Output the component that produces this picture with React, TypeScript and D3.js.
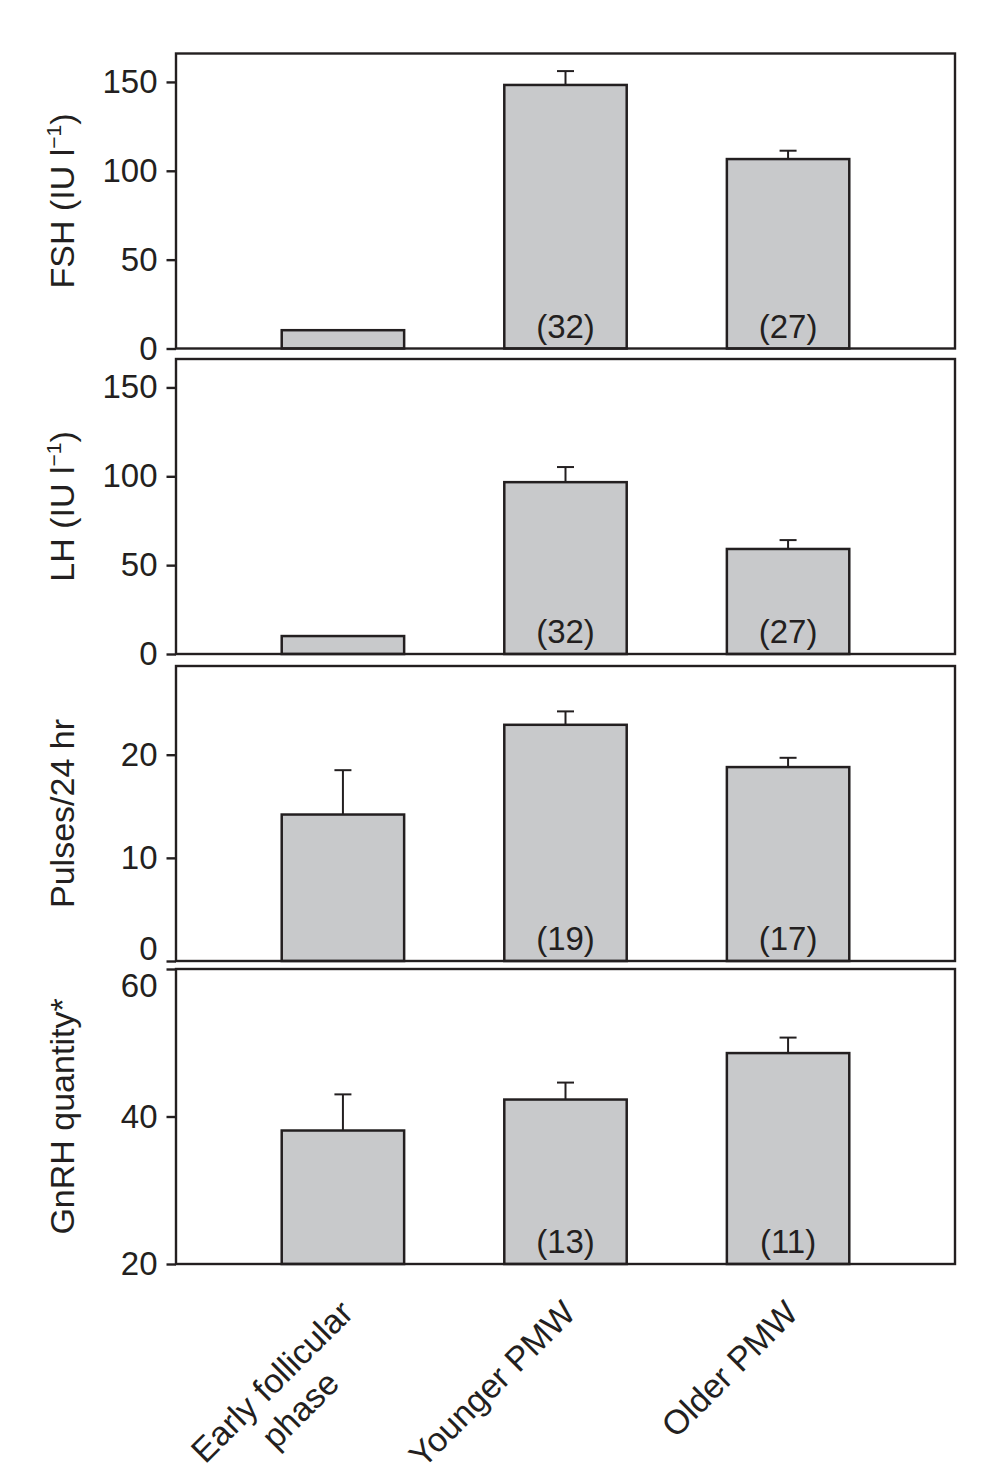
import * as d3 from 'd3';
import React, { useEffect, useRef } from 'react';

// groups on the x axis (line breaks as in the figure)
const groups = ['Early follicular phase', 'Younger PMW', 'Older PMW'];
const groupLines = [['Early follicular', 'phase'], ['Younger PMW'], ['Older PMW']];

const fshMean = [10.3, 148.3, 106.6];
const fshErr = [0, 7.8, 4.7];
const fshN = ['', '(32)', '(27)'];

const lhMean = [10.1, 96.7, 59.1];
const lhErr = [0, 8.5, 5.0];
const lhN = ['', '(32)', '(27)'];

const pulseMean = [14.2, 22.9, 18.8];
const pulseErr = [4.3, 1.3, 0.9];
const pulseN = ['', '(19)', '(17)'];

const gnrhMean = [38.1, 42.3, 48.6];
const gnrhErr = [4.9, 2.3, 2.1];
const gnrhN = ['', '(13)', '(11)'];

const fshTicks = [0, 50, 100, 150];
const lhTicks = [0, 50, 100, 150];
const pulseTicks = [0, 10, 20];
const gnrhTicks = [20, 40, 60];

type Panel = {
  title: string;
  sup?: string;
  after?: string;
  mean: number[];
  err: number[];
  n: string[];
  domain: [number, number];
  ticks: number[];
  top: number;
  // nudge for tick labels that would touch the next panel's labels
  nudge?: Record<number, number>;
};

const W = 997;
const H = 1483;
const left = 176;
const right = 955;
const panelH = 295;
const FONT = 'Liberation Sans, Arial, Helvetica, sans-serif';
const INK = '#231f20';

const App: React.FC = () => {
  const ref = useRef<SVGSVGElement | null>(null);

  useEffect(() => {
    document.body.style.margin = '0';
    const svg = d3.select(ref.current);
    svg.selectAll('*').remove();

    const panels: Panel[] = [
      { title: 'FSH (IU l', sup: '−1', after: ')', mean: fshMean, err: fshErr, n: fshN, domain: [0, 166], ticks: fshTicks, top: 53.5 },
      { title: 'LH (IU l', sup: '−1', after: ')', mean: lhMean, err: lhErr, n: lhN, domain: [0, 166], ticks: lhTicks, top: 359 },
      { title: 'Pulses/24 hr', mean: pulseMean, err: pulseErr, n: pulseN, domain: [0, 28.6], ticks: pulseTicks, top: 666, nudge: { 0: -12 } },
      { title: 'GnRH quantity*', mean: gnrhMean, err: gnrhErr, n: gnrhN, domain: [20, 60], ticks: gnrhTicks, top: 969, nudge: { 60: 17 } },
    ];

    const x = d3.scalePoint<string>().domain(groups).range([left, right]).padding(0.75);
    const barW = x.step() * 0.55;

    panels.forEach(p => {
      const bottom = p.top + panelH;
      const y = d3.scaleLinear().domain(p.domain).range([bottom, p.top]);
      const g = svg.append('g');

      // bars with upper error bars
      groups.forEach((name, i) => {
        const cx = x(name) ?? 0;
        const yt = y(p.mean[i]);
        if (p.err[i] > 0) {
          const ye = y(p.mean[i] + p.err[i]);
          g.append('line').attr('x1', cx).attr('x2', cx).attr('y1', yt).attr('y2', ye)
            .attr('stroke', INK).attr('stroke-width', 2);
          g.append('line').attr('x1', cx - 8.5).attr('x2', cx + 8.5).attr('y1', ye).attr('y2', ye)
            .attr('stroke', INK).attr('stroke-width', 2);
        }
        g.append('rect')
          .attr('x', cx - barW / 2)
          .attr('y', yt)
          .attr('width', barW)
          .attr('height', bottom - yt)
          .attr('fill', '#c8c9cb')
          .attr('stroke', INK)
          .attr('stroke-width', 2.5);
        if (p.n[i]) {
          g.append('text').attr('x', cx).attr('y', bottom - 11)
            .attr('text-anchor', 'middle')
            .attr('font-family', FONT).attr('font-size', 33).attr('fill', INK)
            .text(p.n[i]);
        }
      });

      // frame
      g.append('rect').attr('x', left).attr('y', p.top).attr('width', right - left).attr('height', panelH)
        .attr('fill', 'none').attr('stroke', INK).attr('stroke-width', 2.4);

      // y axis
      const ax = g.append('g').attr('transform', `translate(${left},0)`)
        .call(d3.axisLeft(y).tickValues(p.ticks).tickSize(9.5).tickPadding(9).tickFormat(d3.format('d')));
      ax.select('.domain').remove();
      ax.selectAll('line').attr('stroke', INK).attr('stroke-width', 2.4);
      ax.selectAll<SVGTextElement, number>('text')
        .attr('font-family', FONT).attr('font-size', 33).attr('fill', INK)
        .attr('y', d => (p.nudge && p.nudge[d]) || 0);

      // title
      const t = g.append('text')
        .attr('transform', `translate(74,${(p.top + bottom) / 2}) rotate(-90)`)
        .attr('text-anchor', 'middle')
        .attr('font-family', FONT).attr('font-size', 34).attr('fill', INK);
      t.append('tspan').text(p.title);
      if (p.sup) {
        t.append('tspan').attr('font-size', 21).attr('dy', -13).text(p.sup);
        t.append('tspan').attr('dy', 13).text(p.after ?? '');
      }
    });

    // category labels, rotated
    const axisBottom = panels[3].top + panelH;
    groups.forEach((name, i) => {
      const cx = x(name) ?? 0;
      const lg = svg.append('g').attr('transform', `translate(${cx + 12},${axisBottom + 51}) rotate(-45)`);
      const lines = groupLines[i];
      const first = lg.append('text').attr('x', 0).attr('y', 0).attr('text-anchor', 'end')
        .attr('font-family', FONT).attr('font-size', 34).attr('fill', INK).text(lines[0]);
      if (lines.length > 1) {
        const w1 = (first.node() as SVGTextElement).getComputedTextLength();
        lines.slice(1).forEach((ln, k) => {
          lg.append('text').attr('x', -w1 / 2).attr('y', 40 * (k + 1)).attr('text-anchor', 'middle')
            .attr('font-family', FONT).attr('font-size', 34).attr('fill', INK).text(ln);
        });
      }
    });
  }, []);

  return <svg ref={ref} width={W} height={H} style={{ display: 'block', background: '#fff' }} />;
};

export default App;
